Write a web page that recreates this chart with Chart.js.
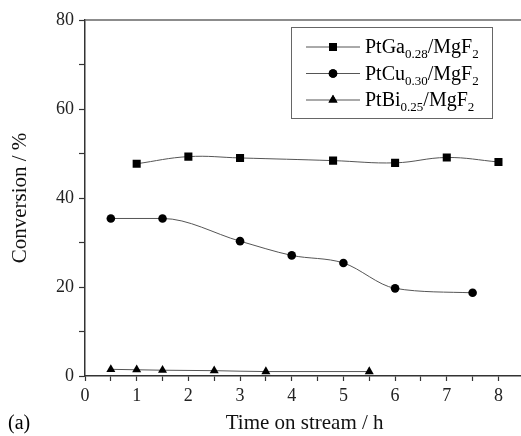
<!DOCTYPE html>
<html>
<head>
<meta charset="utf-8">
<script src="https://cdn.jsdelivr.net/npm/chart.js@4.4.1/dist/chart.umd.min.js"></script>
<style>
  html, body { margin: 0; padding: 0; background: #fff; overflow: hidden; }
  #wrap { width: 530px; height: 436px; position: relative; }
</style>
</head>
<body>
<div id="wrap"><canvas id="myChart"></canvas></div>
<script>
// data
const gaTime = [1, 2, 3, 4.8, 6, 7, 8];
const gaConv = [47.7, 49.3, 49.0, 48.4, 47.9, 49.1, 48.1];
const cuTime = [0.5, 1.5, 3, 4, 5, 6, 7.5];
const cuConv = [35.4, 35.4, 30.3, 27.1, 25.4, 19.7, 18.7];
const biTime = [0.5, 1, 1.5, 2.5, 3.5, 5.5];
const biConv = [1.5, 1.4, 1.3, 1.2, 1.0, 1.0];

const seriesNames = [
  ["PtGa", "0.28", "/MgF", "2"],
  ["PtCu", "0.30", "/MgF", "2"],
  ["PtBi", "0.25", "/MgF", "2"],
];
const markers = ["rect", "circle", "triangle"];
const markerSize = [5.7, 4.3, 5.2];

const xTicks = [0, 1, 2, 3, 4, 5, 6, 7, 8];
const yTicks = [0, 20, 40, 60, 80];

const serif = "'Liberation Serif', 'DejaVu Serif', serif";
const lineGray = "#555";

function pts(xs, ys) {
  return xs.map((x, i) => ({ x: x, y: ys[i] }));
}

function makeSet(i, xs, ys, mode) {
  return {
    data: pts(xs, ys),
    borderColor: lineGray,
    borderWidth: 1,
    backgroundColor: "#000",
    pointBackgroundColor: "#000",
    pointBorderColor: "#000",
    pointBorderWidth: 0,
    pointStyle: markers[i],
    pointRadius: markerSize[i],
    tension: 0.4,
    cubicInterpolationMode: mode,
  };
}

// frame line at top, legend box with subscripts, panel label
const extras = {
  id: "extras",
  afterDraw(chart) {
    const c = chart.ctx;
    const a = chart.chartArea;
    c.save();
    c.strokeStyle = "#666";
    c.lineWidth = 1.5;
    c.beginPath();
    c.moveTo(a.left, a.top);
    c.lineTo(a.right + 10, a.top);
    c.stroke();

    c.strokeStyle = "#666";
    c.lineWidth = 1;
    c.strokeRect(291.5, 27.5, 201, 91);
    const rows = [47, 73.5, 100];
    rows.forEach((cy, i) => {
      c.strokeStyle = lineGray;
      c.lineWidth = 1;
      c.beginPath();
      c.moveTo(306, cy);
      c.lineTo(360, cy);
      c.stroke();
      Chart.helpers.drawPoint(c, { pointStyle: markers[i], radius: markerSize[i], borderWidth: 0 }, 333, cy);
      c.fillStyle = "#000";
      c.fill();
      let x = 365;
      c.textBaseline = "alphabetic";
      c.textAlign = "left";
      seriesNames[i].forEach((p, k) => {
        const sub = k % 2 === 1;
        c.font = (sub ? "13px " : "20px ") + serif;
        c.fillText(p, x, cy + (sub ? 11 : 6));
        x += c.measureText(p).width;
      });
    });

    c.font = "20px " + serif;
    c.fillStyle = "#000";
    c.fillText("(a)", 8, 429);
    c.restore();
  },
};

const ctx = document.getElementById("myChart");
let chart = new Chart(ctx, {
  type: "line",
  data: {
    datasets: [
      makeSet(0, gaTime, gaConv, "default"),
      makeSet(1, cuTime, cuConv, "monotone"),
      makeSet(2, biTime, biConv, "monotone"),
    ],
  },
  options: {
    responsive: true,
    maintainAspectRatio: false,
    animation: false,
    layout: { padding: { top: 20, right: 0, left: 0, bottom: 0 } },
    plugins: { legend: { display: false }, tooltip: { enabled: false } },
    scales: {
      x: {
        type: "linear",
        min: 0,
        max: 8.5,
        afterBuildTicks(scale) {
          scale.ticks = [];
          for (let v = 0; v <= 8.5; v += 0.5) scale.ticks.push({ value: v });
        },
        afterFit(scale) { scale.height = 60; },
        ticks: {
          stepSize: 0.5,
          autoSkip: false,
          maxRotation: 0,
          padding: 4,
          color: "#222",
          font: { family: serif, size: 18 },
          callback: (v) => (xTicks.includes(v) ? String(v) : ""),
        },
        grid: { drawOnChartArea: false, tickLength: 5, tickColor: "#333", tickWidth: 1.2 },
        border: { color: "#333", width: 1.5 },
        title: {
          display: true,
          text: "Time on stream / h",
          color: "#111",
          font: { family: serif, size: 21 },
          padding: { top: 0, bottom: 0 },
        },
      },
      y: {
        min: 0,
        max: 80,
        afterFit(scale) { scale.width = 85; },
        ticks: {
          stepSize: 10,
          padding: 5,
          color: "#222",
          font: { family: serif, size: 18 },
          callback: (v) => (yTicks.includes(v) ? String(v) : ""),
        },
        grid: { drawOnChartArea: false, tickLength: 6, tickColor: "#333", tickWidth: 1.2 },
        border: { color: "#333", width: 1.5 },
        title: {
          display: true,
          text: "Conversion / %",
          color: "#111",
          font: { family: serif, size: 21 },
          padding: { top: 8, bottom: 0 },
        },
      },
    },
  },
  plugins: [extras],
});
</script>
</body>
</html>
